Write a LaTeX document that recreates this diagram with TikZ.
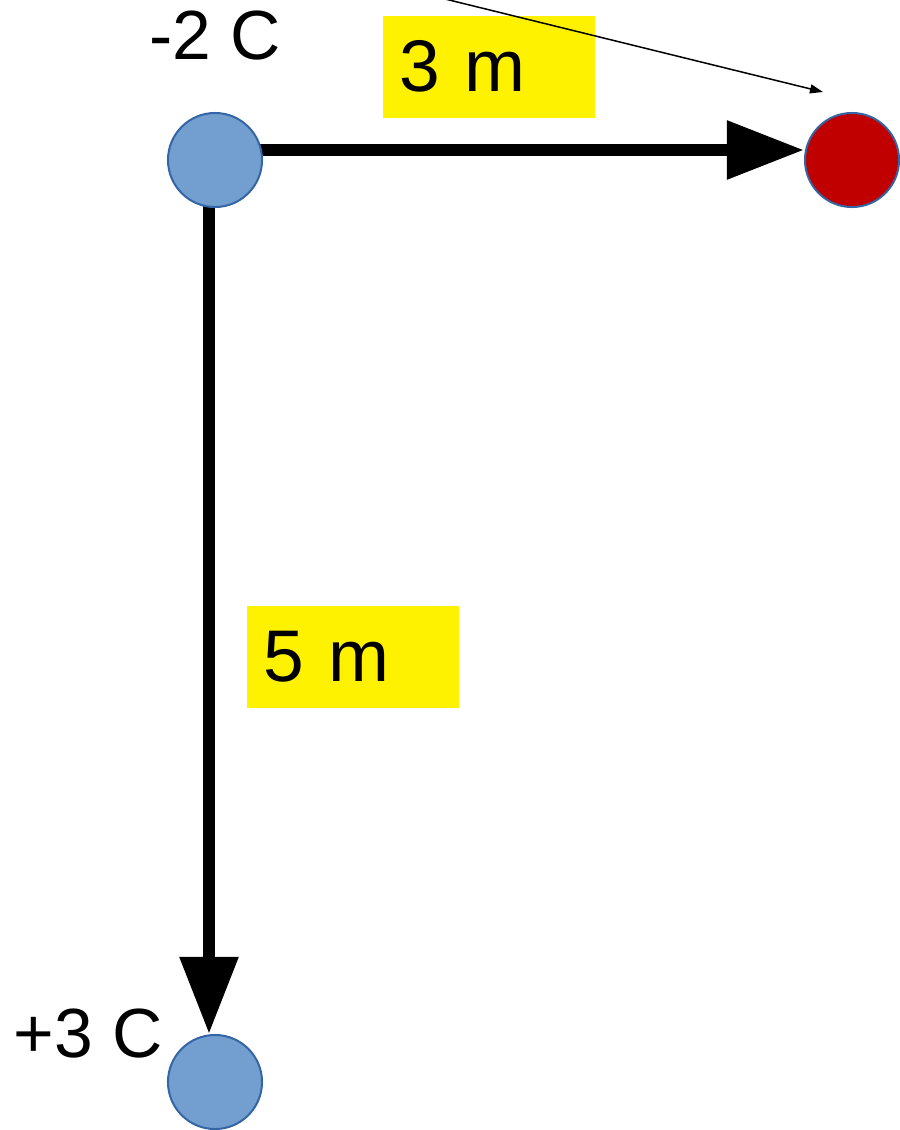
\documentclass[tikz,border=0pt]{standalone}
\usepackage{fontspec}
\setmainfont{Liberation Sans}
\usetikzlibrary{arrows.meta,backgrounds}
\definecolor{chargeblue}{RGB}{114,159,207}
\definecolor{rimblue}{RGB}{52,101,164}
\definecolor{probered}{RGB}{192,0,0}

\begin{document}
\begin{tikzpicture}[x=0.01cm,y=-0.01cm,
    charge/.style={circle,draw=rimblue,line width=0.2mm,minimum size=9.4mm,inner sep=0pt},
    lenbox/.style={fill=yellow,anchor=north west,minimum height=10.2mm,text width=17.8mm,
      inner xsep=1.7mm,align=left,font=\fontsize{20.8}{24}\selectfont},
    clabel/.style={anchor=base west,inner sep=0pt,font=\fontsize{19.8}{23}\selectfont},
    bigarrow/.style={line width=1.2mm,-{Triangle[length=7.7mm,width=5.6mm]}}]
    \useasboundingbox (0,0) rectangle (899,1130);
    % charges and the test point
    \node[charge,fill=chargeblue] (qtop) at (215,160) {};
    \node[charge,fill=chargeblue] (qbot) at (215,1082) {};
    \node[charge,fill=probered] (probe) at (852,160) {};
    \node[clabel] (labtop) at (149,59) {-2 C};
    \node[clabel] (labbot) at (13,1057) {+3 C};
    % distances
    \begin{scope}[on background layer]
      \draw[bigarrow] ([yshift=1mm]qtop.center) -- ([yshift=1mm]probe.west);
      \draw[bigarrow] ([xshift=-0.6mm]qtop.center) -- ([xshift=-0.6mm]qbot.north);
    \end{scope}
    \node[lenbox] (len3) at (382,15) {3 m};
    \node[lenbox] (len5) at (246,605) {5 m};
    % thin pointer
    \coordinate (ptail) at (441,-2);
    \coordinate (phead) at (823,92);
    \draw[line width=0.15mm,-{Triangle[length=1.3mm,width=0.9mm]}] (ptail) -- (phead);
  \end{tikzpicture}
\end{document}
